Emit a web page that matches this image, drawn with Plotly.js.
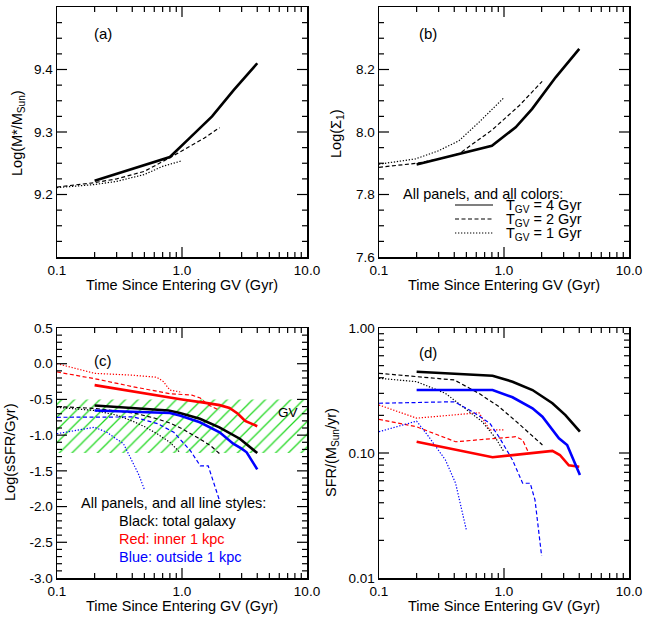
<!DOCTYPE html>
<html><head><meta charset="utf-8">
<script src="https://cdn.plot.ly/plotly-3.0.1.min.js"></script>
<style>html,body{margin:0;padding:0;background:#fff}#chart{width:645px;height:623px}</style>
</head><body><div id="chart"></div>
<script>
// ---------- Panel (a): Log(M*/Msun) ----------
var a_t4 = [0.2, 0.8, 1.16, 1.74, 2.59, 4.0];
var a_v4 = [9.222, 9.260, 9.291, 9.325, 9.367, 9.410];
var a_t2 = [0.1, 0.2, 0.3, 0.5, 0.8, 1.0, 1.5, 2.0];
var a_v2 = [9.212, 9.219, 9.225, 9.237, 9.259, 9.270, 9.290, 9.307];
var a_t1 = [0.1, 0.2, 0.3, 0.5, 0.7, 1.0];
var a_v1 = [9.211, 9.216, 9.221, 9.232, 9.245, 9.254];

// ---------- Panel (b): Log(Sigma_1) ----------
var b_t4 = [0.2, 0.8, 1.24, 1.68, 2.59, 4.0];
var b_v4 = [7.896, 7.956, 8.015, 8.074, 8.175, 8.266];
var b_t2 = [0.1, 0.2, 0.3, 0.436, 0.8, 1.32, 2.02];
var b_v2 = [7.887, 7.900, 7.913, 7.930, 8.006, 8.084, 8.162];
var b_t1 = [0.1, 0.196, 0.3, 0.436, 0.63, 1.0];
var b_v1 = [7.897, 7.914, 7.940, 7.972, 8.031, 8.110];

// ---------- Panel (c): Log(sSFR/Gyr) ----------
var gv_x = [0.1, 10, 10, 0.1, 0.1];
var gv_y = [-0.5, -0.5, -1.25, -1.25, -0.5];

var c_blk_t4 = [0.2, 0.78, 0.96, 1.39, 1.99, 2.9, 4.0];
var c_blk_v4 = [-0.585, -0.655, -0.69, -0.77, -0.89, -1.05, -1.25];
var c_blk_t2 = [0.1, 0.2, 0.41, 0.6, 0.8, 1.0, 1.35, 1.7, 2.0];
var c_blk_v2 = [-0.60, -0.625, -0.69, -0.76, -0.83, -0.91, -1.04, -1.15, -1.26];
var c_blk_t1 = [0.1, 0.2, 0.3, 0.41, 0.5, 0.63, 0.8, 0.96];
var c_blk_v1 = [-0.61, -0.655, -0.72, -0.81, -0.88, -0.98, -1.10, -1.24];

var c_red_t4 = [0.2, 0.8, 1.0, 1.5, 2.0, 2.4, 2.8, 3.2, 4.0];
var c_red_v4 = [-0.30, -0.48, -0.50, -0.545, -0.58, -0.62, -0.70, -0.80, -0.875];
var c_red_t2 = [0.1, 0.2, 0.4, 0.8, 1.2, 1.4, 1.6, 2.0];
var c_red_v2 = [-0.115, -0.21, -0.32, -0.42, -0.44, -0.48, -0.57, -0.655];
var c_red_t1 = [0.1, 0.2, 0.4, 0.63, 0.71, 0.8, 1.0];
var c_red_v1 = [0.0, -0.135, -0.16, -0.19, -0.25, -0.37, -0.40];

var c_blu_t4 = [0.2, 0.8, 0.96, 1.39, 2.0, 2.57, 3.0, 3.29, 4.0];
var c_blu_v4 = [-0.655, -0.69, -0.725, -0.82, -0.96, -1.12, -1.19, -1.24, -1.48];
var c_blu_t2 = [0.1, 0.41, 0.64, 0.86, 1.17, 1.4, 1.62, 1.8, 2.0];
var c_blu_v2 = [-0.75, -0.745, -0.84, -0.96, -1.22, -1.43, -1.43, -1.69, -1.92];
var c_blu_t1 = [0.1, 0.2, 0.25, 0.34, 0.385, 0.45, 0.5];
var c_blu_v1 = [-0.98, -0.89, -0.96, -1.12, -1.31, -1.55, -1.76];

// ---------- Panel (d): SFR/(Msun/yr) ----------
var d_blk_t4 = [0.2, 0.81, 1.17, 1.69, 2.44, 3.1, 4.05];
var d_blk_v4 = [0.447, 0.415, 0.372, 0.319, 0.250, 0.201, 0.148];
var d_blk_t2 = [0.1, 0.4, 0.63, 0.91, 1.3, 2.03];
var d_blk_v2 = [0.434, 0.384, 0.300, 0.235, 0.173, 0.116];
var d_blk_t1 = [0.1, 0.2, 0.34, 0.49, 0.67, 0.86, 1.0];
var d_blk_v1 = [0.396, 0.372, 0.300, 0.228, 0.178, 0.131, 0.102];

var d_blu_t4 = [0.2, 0.81, 1.17, 1.69, 2.03, 2.75, 3.2, 3.5, 4.05];
var d_blu_v4 = [0.319, 0.319, 0.279, 0.228, 0.195, 0.131, 0.116, 0.093, 0.0667];
var d_blu_t2 = [0.1, 0.4, 0.56, 0.77, 0.91, 1.17, 1.41, 1.62, 1.77, 2.0];
var d_blu_v2 = [0.250, 0.257, 0.214, 0.173, 0.135, 0.0879, 0.0573, 0.0573, 0.0421, 0.0150];
var d_blu_t1 = [0.1, 0.2, 0.25, 0.34, 0.41, 0.44, 0.5];
var d_blu_v1 = [0.148, 0.180, 0.135, 0.0879, 0.0573, 0.0421, 0.0242];

var d_red_t4 = [0.2, 0.81, 2.44, 2.8, 3.3, 4.0];
var d_red_v4 = [0.123, 0.0925, 0.104, 0.0964, 0.0798, 0.0777];
var d_red_t2 = [0.1, 0.2, 0.41, 1.24, 1.41, 1.58];
var d_red_v2 = [0.186, 0.162, 0.123, 0.135, 0.127, 0.0995];
var d_red_t1 = [0.1, 0.2, 0.63, 0.77, 1.0];
var d_red_v1 = [0.242, 0.190, 0.210, 0.153, 0.153];

// ---------- Tick label text fixes (hyphen minus, hidden end labels) ----------
var aHidden = {'9.1': ' '};
var bHidden = {'8.4': ' '};
var cLabels = {'\u22123.0': '-3.0', '\u22122.5': '-2.5', '\u22122.0': '-2.0', '\u22121.5': '-1.5',
               '\u22121.0': '-1.0', '\u22120.5': '-0.5'};

// ---------- Layout helpers ----------
var W = 645, H = 623;
function px(x){ return x / W; }
function py(y){ return 1 - y / H; }
var FONT = 'Liberation Sans, Arial, Helvetica, sans-serif';
var RED = '#ff0000', BLUE = '#0000ff', BLACK = '#000000';
var DASH = '4px,2.5px', DOT = '1.3px,1.7px';

var traces = [];
function sub(n){ return n === 1 ? '' : String(n); }
function addLine(x, y, n, color, style){
  var w = style === 'solid' ? 2.6 : 1.2;
  var dash = style === 'solid' ? 'solid' : (style === 'dash' ? DASH : DOT);
  traces.push({x: x, y: y, xaxis: 'x' + sub(n), yaxis: 'y' + sub(n),
    type: 'scatter', mode: 'lines', line: {color: color, width: w, dash: dash},
    showlegend: false, hoverinfo: 'skip'});
}

addLine(a_t4, a_v4, 1, BLACK, 'solid');
addLine(a_t2, a_v2, 1, BLACK, 'dash');
addLine(a_t1, a_v1, 1, BLACK, 'dot');

addLine(b_t4, b_v4, 2, BLACK, 'solid');
addLine(b_t2, b_v2, 2, BLACK, 'dash');
addLine(b_t1, b_v1, 2, BLACK, 'dot');

// GV hatched band (under the panel-c curves)
traces.push({x: gv_x, y: gv_y, xaxis: 'x3', yaxis: 'y3', type: 'scatter', mode: 'lines',
  fill: 'toself', fillcolor: 'rgba(0,0,0,0)', line: {width: 0, color: 'rgba(0,0,0,0)'},
  fillpattern: {shape: '/', size: 9, solidity: 0.14, fgcolor: '#22d822', bgcolor: 'rgba(0,0,0,0)', fillmode: 'replace'},
  showlegend: false, hoverinfo: 'skip'});

addLine(c_red_t1, c_red_v1, 3, RED, 'dot');
addLine(c_red_t2, c_red_v2, 3, RED, 'dash');
addLine(c_blk_t1, c_blk_v1, 3, BLACK, 'dot');
addLine(c_blk_t2, c_blk_v2, 3, BLACK, 'dash');
addLine(c_blu_t1, c_blu_v1, 3, BLUE, 'dot');
addLine(c_blu_t2, c_blu_v2, 3, BLUE, 'dash');
addLine(c_red_t4, c_red_v4, 3, RED, 'solid');
addLine(c_blk_t4, c_blk_v4, 3, BLACK, 'solid');
addLine(c_blu_t4, c_blu_v4, 3, BLUE, 'solid');

addLine(d_red_t1, d_red_v1, 4, RED, 'dot');
addLine(d_red_t2, d_red_v2, 4, RED, 'dash');
addLine(d_blk_t1, d_blk_v1, 4, BLACK, 'dot');
addLine(d_blk_t2, d_blk_v2, 4, BLACK, 'dash');
addLine(d_blu_t1, d_blu_v1, 4, BLUE, 'dot');
addLine(d_blu_t2, d_blu_v2, 4, BLUE, 'dash');
addLine(d_red_t4, d_red_v4, 4, RED, 'solid');
addLine(d_blk_t4, d_blk_v4, 4, BLACK, 'solid');
addLine(d_blu_t4, d_blu_v4, 4, BLUE, 'solid');

// ---- IDL-style inside ticks on all four sides, drawn as line segments on each panel's own axes ----
var PANEL_PX = 250, MAJ = 10, MIN = 5;
function fromL(l, isLog){ return isLog ? Math.pow(10, l) : l; }
function logList(lo, hi){
  var out = [];
  for (var e = lo; e < hi; e++) for (var m = 1; m <= 9; m++){
    if (e === lo && m === 1) continue;
    out.push({v: m * Math.pow(10, e), len: m === 1 ? MAJ : MIN});
  }
  return out;
}
function linList(lo, hi, major, minor){
  var out = [], steps = Math.round((hi - lo) / minor);
  for (var k = 1; k < steps; k++){
    var v = lo + k * minor, r = v / major;
    out.push({v: v, len: Math.abs(r - Math.round(r)) < 1e-6 ? MAJ : MIN});
  }
  return out;
}
function addTicks(n, xLog, xr, yLog, yr, xt, yt){
  var X = [], Y = [], i, d;
  for (i = 0; i < xt.length; i++){
    d = xt[i].len * (yr[1] - yr[0]) / PANEL_PX;
    X.push(xt[i].v, xt[i].v, null, xt[i].v, xt[i].v, null);
    Y.push(fromL(yr[0], yLog), fromL(yr[0] + d, yLog), null, fromL(yr[1], yLog), fromL(yr[1] - d, yLog), null);
  }
  for (i = 0; i < yt.length; i++){
    d = yt[i].len * (xr[1] - xr[0]) / PANEL_PX;
    Y.push(yt[i].v, yt[i].v, null, yt[i].v, yt[i].v, null);
    X.push(fromL(xr[0], xLog), fromL(xr[0] + d, xLog), null, fromL(xr[1], xLog), fromL(xr[1] - d, xLog), null);
  }
  traces.push({x: X, y: Y, xaxis: 'x' + sub(n), yaxis: 'y' + sub(n), type: 'scatter', mode: 'lines',
    connectgaps: false, line: {color: '#000', width: 1.2}, showlegend: false, hoverinfo: 'skip'});
}
var xTicks = logList(-1, 1);
addTicks(1, true, [-1, 1], false, [9.1, 9.5], xTicks, linList(9.1, 9.5, 0.1, 0.025));
addTicks(2, true, [-1, 1], false, [7.6, 8.4], xTicks, linList(7.6, 8.4, 0.2, 0.05));
addTicks(3, true, [-1, 1], false, [-3, 0.5], xTicks, linList(-3, 0.5, 0.5, 0.1));
addTicks(4, true, [-1, 1], true, [-2, 0], xTicks, logList(-2, 0));

function common(ax){
  ax.ticks = ''; ax.showline = true; ax.linewidth = 1.5; ax.linecolor = '#000'; ax.mirror = true;
  ax.showgrid = false; ax.zeroline = false; ax.tickfont = {family: FONT, size: 13.5, color: '#000'};
  return ax;
}
function xAxis(domain, anchor){
  return common({domain: domain, anchor: anchor, type: 'log', range: [-1, 1],
    tickmode: 'linear', tick0: 0, dtick: 1, tickformat: '.1f'});
}
function yAxis(domain, anchor, extra){
  var ax = common({domain: domain, anchor: anchor});
  for (var k in extra) ax[k] = extra[k];
  return ax;
}

var xdA = [px(57), px(307)], xdB = [px(379), px(629)];
var ydT = [py(257), py(7)], ydB = [py(578), py(328)];

var layout = {
  width: W, height: H, margin: {l: 0, r: 0, t: 0, b: 0},
  paper_bgcolor: '#fff', plot_bgcolor: 'rgba(0,0,0,0)', showlegend: false,
  font: {family: FONT, color: '#000'},
  xaxis: xAxis(xdA, 'y'),
  xaxis2: xAxis(xdB, 'y2'),
  xaxis3: xAxis(xdA, 'y3'),
  xaxis4: xAxis(xdB, 'y4'),
  yaxis: yAxis(ydT, 'x', {range: [9.1, 9.5], tickmode: 'linear', tick0: 9.1, dtick: 0.1, tickformat: '.1f', labelalias: aHidden}),
  yaxis2: yAxis(ydT, 'x2', {range: [7.6, 8.4], tickmode: 'linear', tick0: 7.6, dtick: 0.2, tickformat: '.1f', labelalias: bHidden}),
  yaxis3: yAxis(ydB, 'x3', {range: [-3, 0.5], tickmode: 'linear', tick0: 0, dtick: 0.5, tickformat: '.1f', labelalias: cLabels}),
  yaxis4: yAxis(ydB, 'x4', {type: 'log', range: [-2, 0], tickmode: 'linear', tick0: 0, dtick: 1, tickformat: '.2f'}),
  annotations: [],
  shapes: []
};

function note(text, x, y, size, color, anchor, angle){
  layout.annotations.push({text: text, xref: 'paper', yref: 'paper', x: px(x), y: py(y),
    xanchor: anchor || 'center', yanchor: 'middle', showarrow: false, textangle: angle || 0,
    font: {family: FONT, size: size, color: color || '#000'}});
}
// axis titles
var XT = 'Time Since Entering GV (Gyr)';
note(XT, 182, 285, 14.5); note(XT, 504, 285, 14.5);
note(XT, 182, 606, 14.5); note(XT, 504, 606, 14.5);
note('Log(M*/M<sub>Sun</sub>)', 18, 133, 14.5, '#000', 'center', -90);
note('Log(Σ<sub>1</sub>)', 337, 134, 14.5, '#000', 'center', -90);
note('Log(sSFR/Gyr)', 10, 452, 14.5, '#000', 'center', -90);
note('SFR/(M<sub>Sun</sub>/yr)', 332, 453, 14.5, '#000', 'center', -90);

note('(a)', 103, 33, 15);
note('(b)', 428, 33, 15);
note('(c)', 103, 360, 15);
note('(d)', 428, 352, 15);
note('GV', 288, 413, 13.5);

// legend of panel (b)
note('All panels, and all colors:', 401, 194, 14.5, '#000', 'left');
var legY = [205, 219, 233];
var legDash = ['solid', DASH, DOT];
var legText = ['T<sub>GV</sub> = 4 Gyr', 'T<sub>GV</sub> = 2 Gyr', 'T<sub>GV</sub> = 1 Gyr'];
for (var i = 0; i < 3; i++){
  layout.shapes.push({type: 'line', xref: 'paper', yref: 'paper', x0: px(455), x1: px(493), y0: py(legY[i]), y1: py(legY[i]),
    line: {color: '#000', width: 1.2, dash: legDash[i]}});
  note(legText[i], 504, legY[i] + 1, 14.5, '#000', 'left');
}
// legend of panel (c)
note('All panels, and all line styles:', 79, 503, 14.5, '#000', 'left');
note('Black: total galaxy', 117, 521, 14.5, BLACK, 'left');
note('Red: inner 1 kpc', 117, 539, 14.5, RED, 'left');
note('Blue: outside 1 kpc', 117, 557, 14.5, BLUE, 'left');

Plotly.newPlot('chart', traces, layout, {staticPlot: true, displayModeBar: false});
</script></body></html>
